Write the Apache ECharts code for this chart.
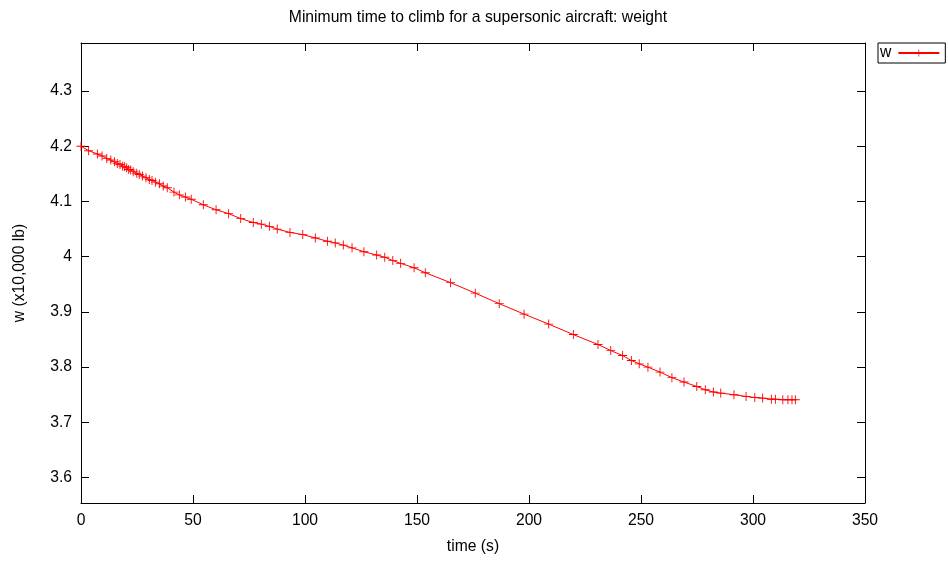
<!DOCTYPE html>
<html>
<head>
<meta charset="utf-8">
<script src="https://cdn.jsdelivr.net/npm/echarts@6/dist/echarts.min.js"></script>
<style>html,body{margin:0;padding:0;background:#fff}#c{width:948px;height:565px}</style>
</head>
<body>
<div id="c"></div>
<script>
var times = [0, 3.4, 7.3, 9.4, 11.5, 13.3, 15.0, 16.2, 17.4, 18.6, 19.5, 20.4, 21.3, 22.2, 23.3, 24.9, 26.0, 27.5, 29.0, 30.5, 31.7, 33.2, 35.0, 36.7, 38.5, 41.5, 43.9, 46.6, 49.2, 54.6, 60.3, 65.9, 71.3, 76.9, 80.5, 84.1, 87.6, 93.3, 99.0, 104.6, 110.0, 113.5, 117.1, 121.0, 126.3, 132.0, 135.6, 139.2, 142.7, 148.7, 153.7, 165.0, 176.0, 186.7, 197.8, 208.8, 219.8, 230.8, 236.5, 241.8, 245.7, 249.2, 253.1, 258.5, 263.8, 269.2, 274.9, 278.7, 282.3, 285.6, 291.5, 296.9, 300.8, 304.3, 308.2, 310.0, 313.3, 315.6, 317.4, 318.9];
var weights = [4.200, 4.192, 4.186, 4.1825, 4.178, 4.175, 4.172, 4.169, 4.167, 4.164, 4.163, 4.161, 4.158, 4.157, 4.154, 4.151, 4.149, 4.146, 4.143, 4.140, 4.138, 4.135, 4.132, 4.128, 4.125, 4.117, 4.112, 4.108, 4.104, 4.094, 4.085, 4.078, 4.069, 4.062, 4.059, 4.055, 4.050, 4.044, 4.040, 4.034, 4.028, 4.025, 4.021, 4.016, 4.009, 4.003, 3.999, 3.993, 3.988, 3.980, 3.971, 3.953, 3.934, 3.915, 3.896, 3.878, 3.859, 3.841, 3.830, 3.821, 3.812, 3.806, 3.800, 3.791, 3.781, 3.773, 3.765, 3.759, 3.755, 3.753, 3.750, 3.747, 3.745, 3.744, 3.742, 3.742, 3.741, 3.741, 3.741, 3.741];
var yTicks = [3.6, 3.7, 3.8, 3.9, 4.0, 4.1, 4.2, 4.3];
var xTicks = [0, 50, 100, 150, 200, 250, 300, 350];

var pts = times.map(function (t, i) { return [t, weights[i]]; });
var plus = 'path://M0,4.5H4.5V0H5.5V4.5H10V5.5H5.5V10H4.5V5.5H0Z';
var font = 'Liberation Sans, Arial, sans-serif';
var fs = 15.7;

var chart = echarts.init(document.getElementById('c'), null, {renderer: 'canvas'});
var axisCommon = {
  axisLine: {show: true, onZero: false, lineStyle: {color: '#000', width: 1}},
  splitLine: {show: false},
  axisTick: {show: true, inside: true, length: 8, lineStyle: {color: '#000'}}
};
chart.setOption({
  animation: false,
  backgroundColor: '#fff',
  title: {
    text: 'Minimum time to climb for a supersonic aircraft: weight',
    left: 473, top: 5, textAlign: 'center',
    textStyle: {fontFamily: font, fontSize: fs, fontWeight: 'normal', color: '#000'}
  },
  grid: {left: 81, right: 83, top: 43, bottom: 62, containLabel: false},
  legend: {
    data: ['w'], left: 878, top: 43, align: 'right', orient: 'vertical',
    borderColor: '#000', borderWidth: 1, borderRadius: 0,
    padding: [2, 5, 2, 2], itemWidth: 41, itemHeight: 9, itemGap: 0,
    textStyle: {fontFamily: font, fontSize: fs, color: '#000', padding: [0, 2, 0, 0]}
  },
  xAxis: [
    Object.assign({}, axisCommon, {
      type: 'value', min: 0, max: 350, interval: 50, position: 'bottom',
      name: 'time (s)', nameLocation: 'middle', nameGap: 36,
      nameTextStyle: {fontFamily: font, fontSize: fs, color: '#000'},
      axisLabel: {show: true, margin: 10, color: '#000', fontFamily: font, fontSize: fs, customValues: xTicks}
    }),
    Object.assign({}, axisCommon, {
      type: 'value', min: 0, max: 350, interval: 50, position: 'top',
      axisLabel: {show: false}
    })
  ],
  yAxis: [
    Object.assign({}, axisCommon, {
      type: 'value', min: 3.554, max: 4.387, position: 'left',
      name: 'w (x10,000 lb)', nameLocation: 'middle', nameGap: 53,
      nameTextStyle: {fontFamily: font, fontSize: fs, color: '#000'},
      axisTick: {show: true, inside: true, length: 8, lineStyle: {color: '#000'}, customValues: yTicks},
      axisLabel: {show: true, margin: 9, color: '#000', fontFamily: font, fontSize: fs, customValues: yTicks,
        formatter: function (v) { return (Math.round(v * 10) / 10).toString(); }}
    }),
    Object.assign({}, axisCommon, {
      type: 'value', min: 3.554, max: 4.387, position: 'right',
      axisTick: {show: true, inside: true, length: 8, lineStyle: {color: '#000'}, customValues: yTicks},
      axisLabel: {show: false}
    })
  ],
  series: [{
    name: 'w', type: 'line', xAxisIndex: 0, yAxisIndex: 0,
    data: pts, symbol: plus, symbolSize: 9, showAllSymbol: true,
    lineStyle: {color: '#ff0000', width: 1},
    itemStyle: {color: '#ff0000'},
    emphasis: {disabled: true}
  }]
});
</script>
</body>
</html>
